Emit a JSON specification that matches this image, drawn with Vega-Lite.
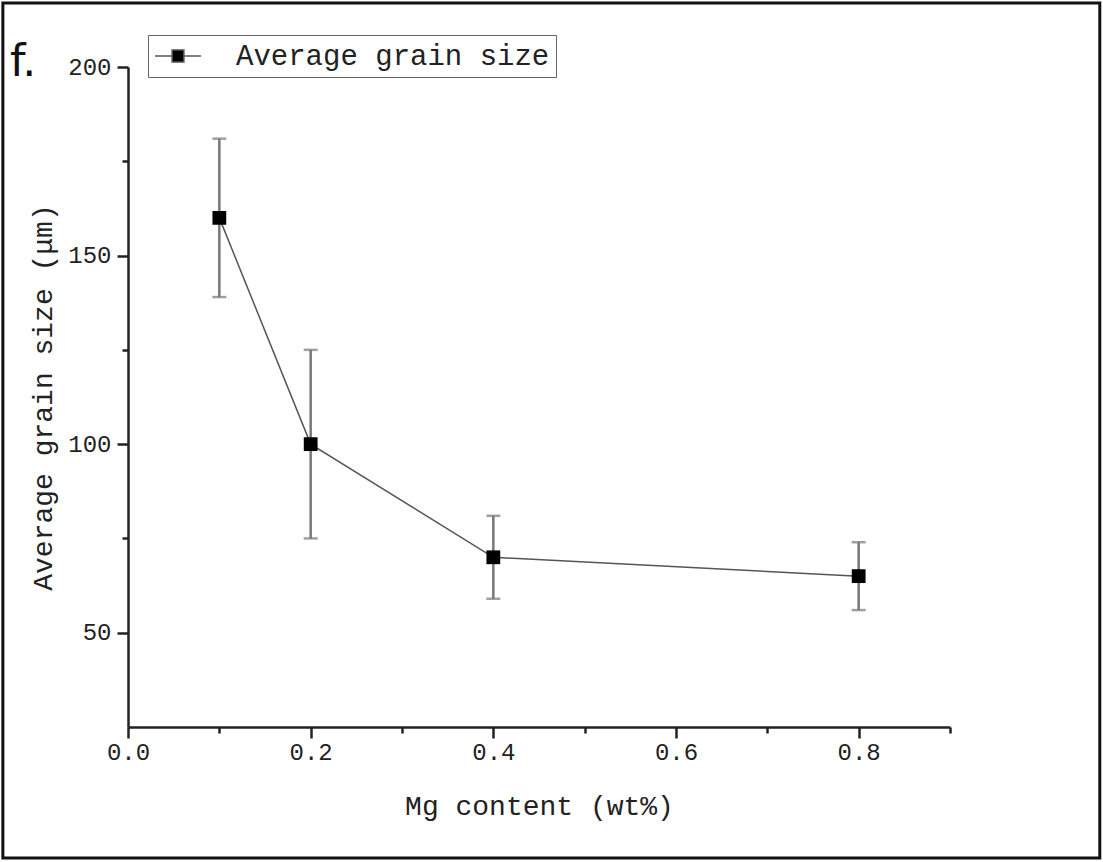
{
  "$schema": "https://vega.github.io/schema/vega-lite/v6.json",
  "width": 822,
  "height": 660,
  "autosize": {"type": "none"},
  "padding": {"left": 128, "top": 67, "right": 153, "bottom": 135},
  "background": "white",
  "title": {"text": "f.", "anchor": "start", "frame": "group", "orient": "top", "offset": 0, "dx": -118, "dy": 119, "fontSize": 44, "font": "DejaVu Sans", "fontWeight": "normal", "color": "#111", "baseline": "alphabetic"},
  "config": {
    "view": {"stroke": null},
    "font": "Liberation Mono",
    "axis": {"domainColor": "#222", "domainWidth": 2.5, "tickColor": "#222", "tickWidth": 2.5, "labelFont": "Liberation Mono", "labelFontSize": 24, "labelColor": "#222", "titleFont": "Liberation Mono", "titleFontSize": 28, "titleColor": "#222", "titleFontWeight": "normal", "grid": false}
  },
  "data": {"values": [
    {"mg": 0.1, "size": 160, "lo": 139, "hi": 181, "series": "Average grain size"},
    {"mg": 0.2, "size": 100, "lo": 75, "hi": 125, "series": "Average grain size"},
    {"mg": 0.4, "size": 70, "lo": 59, "hi": 81, "series": "Average grain size"},
    {"mg": 0.8, "size": 65, "lo": 56, "hi": 74, "series": "Average grain size"}
  ]},
  "layer": [
    {
      "mark": {"type": "line", "color": "#555", "strokeWidth": 1.5},
      "encoding": {
        "x": {"field": "mg", "type": "quantitative", "title": "Mg content (wt%)", "scale": {"domain": [0, 0.9], "nice": false},
          "axis": {"values": [0, 0.1, 0.2, 0.3, 0.4, 0.5, 0.6, 0.7, 0.8, 0.9],
            "labelExpr": "round(datum.value*10) % 2 === 0 ? format(datum.value, '.1f') : ''",
            "tickSize": {"condition": {"test": "round(datum.value*10) % 2 === 0", "value": 11}, "value": 6},
            "labelPadding": 2, "titlePadding": 28, "labelFlush": false}},
        "y": {"field": "size", "type": "quantitative", "title": "Average grain size (μm)", "scale": {"domain": [25, 200], "nice": false},
          "axis": {"values": [50, 75, 100, 125, 150, 175, 200],
            "labelExpr": "datum.value % 50 === 0 ? datum.label : ''",
            "tickSize": {"condition": {"test": "datum.value % 50 === 0", "value": 11}, "value": 6},
            "labelPadding": 6, "titlePadding": 10, "labelFlush": false}}
      }
    },
    {
      "mark": {"type": "errorbar", "ticks": {"size": 14, "thickness": 2.5, "color": "#777"}, "rule": {"strokeWidth": 2.5, "color": "#777"}, "color": "#777"},
      "encoding": {
        "x": {"field": "mg", "type": "quantitative", "title": "Mg content (wt%)"},
        "y": {"field": "lo", "type": "quantitative", "title": "Average grain size (μm)"},
        "y2": {"field": "hi"}
      }
    },
    {
      "mark": {"type": "point", "shape": "square", "filled": true, "size": 190, "opacity": 1},
      "encoding": {
        "x": {"field": "mg", "type": "quantitative", "title": "Mg content (wt%)"},
        "y": {"field": "size", "type": "quantitative", "title": "Average grain size (μm)"},
        "color": {"field": "series", "type": "nominal", "scale": {"range": ["black"]},
          "legend": {"title": null, "orient": "none", "legendX": 20, "legendY": -32, "strokeColor": "#666", "padding": 6,
            "symbolType": "M-1.64,0H-0.42M0.42,0H1.64M-0.42,-0.42H0.42V0.42H-0.42Z", "symbolSize": 784,
            "symbolStrokeColor": "#555", "symbolStrokeWidth": 1.5, "symbolOffset": 9,
            "labelFont": "Liberation Mono", "labelFontSize": 29, "labelColor": "#222", "labelOffset": 43, "labelLimit": 0}}
      }
    },
    {
      "data": {"values": [{}]},
      "mark": {"type": "rect", "fill": null, "stroke": "#111", "strokeWidth": 3, "clip": false},
      "encoding": {
        "x": {"datum": -0.137, "type": "quantitative", "title": "Mg content (wt%)"},
        "x2": {"datum": 1.064},
        "y": {"datum": 216.97, "type": "quantitative", "title": "Average grain size (μm)"},
        "y2": {"datum": -9.74}
      }
    }
  ]
}
